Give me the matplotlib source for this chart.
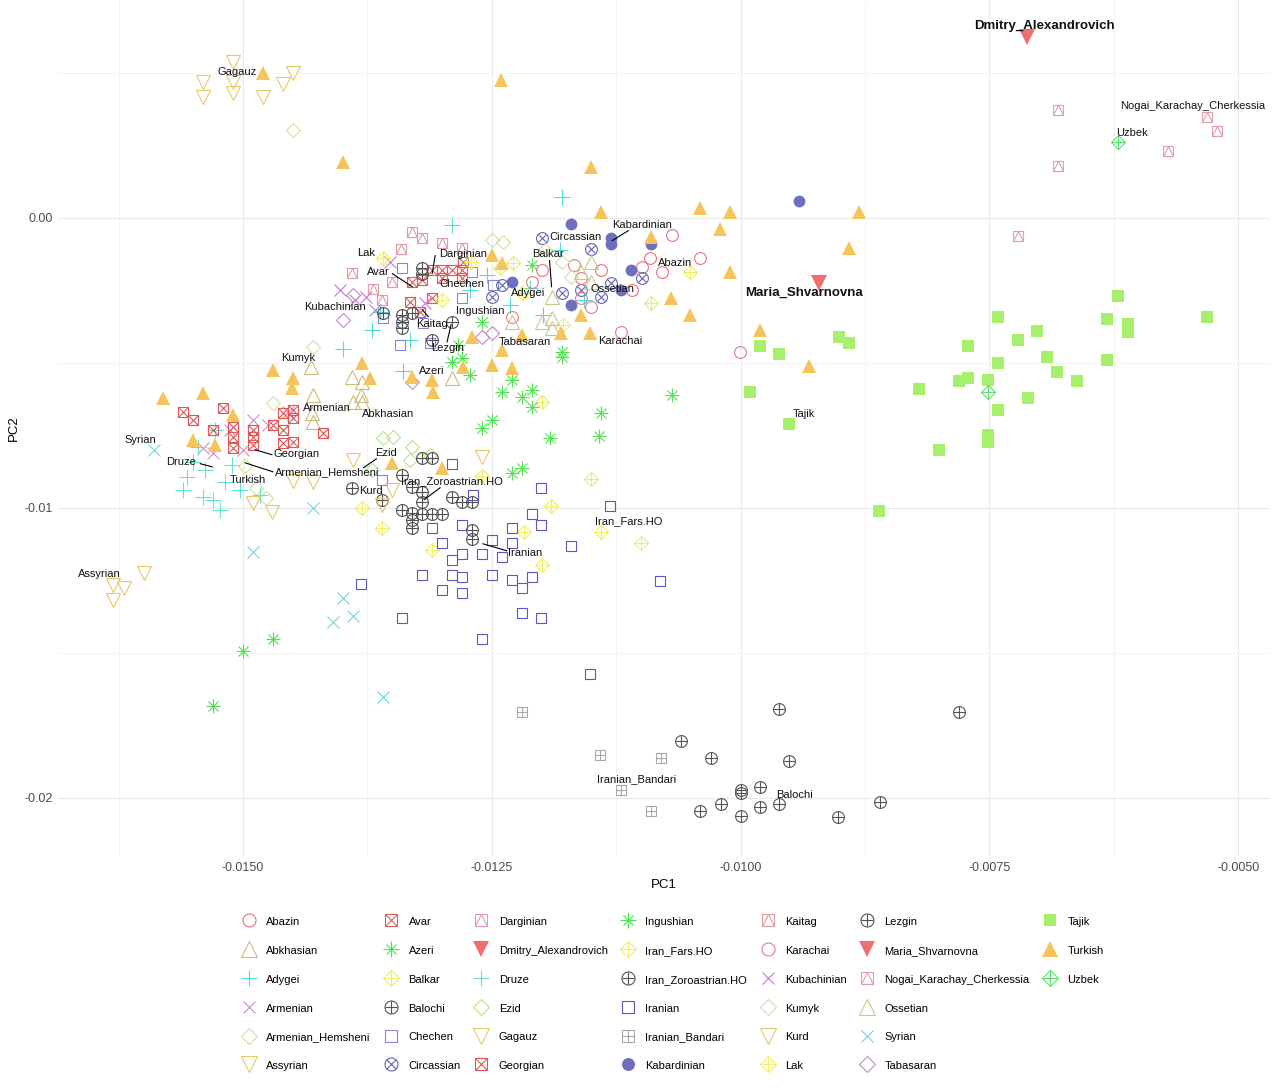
import matplotlib
matplotlib.use("Agg")
import matplotlib.pyplot as plt
from matplotlib.lines import Line2D
from matplotlib.legend_handler import HandlerTuple

plt.rcParams["font.family"] = ["Liberation Sans", "DejaVu Sans"]

# PCA coordinates per population, (PC1, PC2)
abazin = [(-0.01069, -0.00059), (-0.01091, -0.00138), (-0.01041, -0.00138), (-0.01099, -0.00169),
          (-0.01079, -0.00186), (-0.01109, -0.00248), (-0.01140, -0.00179)]
abkhasian = [(-0.01432, -0.00514), (-0.01430, -0.00610), (-0.01431, -0.00672), (-0.01430, -0.00703),
             (-0.01391, -0.00548), (-0.01380, -0.00566), (-0.01381, -0.00610), (-0.01380, -0.00634),
             (-0.01390, -0.00634), (-0.01290, -0.00552)]
adygei = [(-0.01290, -0.00024), (-0.01180, 0.00072), (-0.01255, -0.00197), (-0.01400, -0.00452),
          (-0.01339, -0.00528), (-0.01370, -0.00386), (-0.01199, -0.00334), (-0.01332, -0.00421),
          (-0.01362, -0.00324), (-0.01182, -0.00110), (-0.01157, -0.00283), (-0.01212, -0.00241),
          (-0.01272, -0.00248), (-0.01232, -0.00300)]
armenian = [(-0.01540, -0.00793), (-0.01530, -0.00810), (-0.01500, -0.00800), (-0.01513, -0.00731),
            (-0.01490, -0.00697), (-0.01455, -0.00669), (-0.01475, -0.00714)]
armenian_hemsheni = [(-0.01498, -0.00855), (-0.01487, -0.00931), (-0.01477, -0.00966), (-0.01460, -0.00707)]
assyrian = [(-0.01600, -0.01224), (-0.01631, -0.01266), (-0.01620, -0.01276), (-0.01631, -0.01317)]
avar = [(-0.01310, -0.00179), (-0.01300, -0.00179), (-0.01290, -0.00179), (-0.01280, -0.00179),
        (-0.01300, -0.00207), (-0.01280, -0.00207), (-0.01279, -0.00152), (-0.01320, -0.00214),
        (-0.01310, -0.00276), (-0.01332, -0.00290), (-0.01322, -0.00324), (-0.01330, -0.00221)]
azeri = [(-0.01470, -0.01452), (-0.01500, -0.01493), (-0.01530, -0.01683), (-0.01290, -0.00497),
         (-0.01280, -0.00483), (-0.01284, -0.00438), (-0.01272, -0.00541)]
balkar = [(-0.01051, -0.00186), (-0.01090, -0.00293), (-0.01229, -0.00155), (-0.01200, -0.00634),
          (-0.01220, -0.00259)]
balochi = [(-0.00961, -0.01693), (-0.00781, -0.01703), (-0.01060, -0.01803), (-0.01030, -0.01862),
           (-0.00951, -0.01872), (-0.01000, -0.01972), (-0.01000, -0.01983), (-0.00981, -0.01962),
           (-0.01020, -0.02021), (-0.01041, -0.02045), (-0.01000, -0.02062), (-0.00981, -0.02031),
           (-0.00961, -0.02021), (-0.00902, -0.02066), (-0.00860, -0.02014)]
chechen = [(-0.01340, -0.00172), (-0.01270, -0.00186), (-0.01280, -0.00276), (-0.01359, -0.00345),
           (-0.01312, -0.00431), (-0.01342, -0.00438), (-0.01360, -0.00903), (-0.01319, -0.00362),
           (-0.01249, -0.00231)]
circassian = [(-0.01200, -0.00069), (-0.01150, -0.00107), (-0.01099, -0.00207), (-0.01180, -0.00259),
              (-0.01160, -0.00248), (-0.01140, -0.00272), (-0.01130, -0.00224), (-0.01240, -0.00231),
              (-0.01250, -0.00272)]
darginian = [(-0.01330, -0.00048), (-0.01320, -0.00069), (-0.01300, -0.00086), (-0.01341, -0.00107),
             (-0.01280, -0.00103)]
dmitry = [(-0.00712, 0.00621)]
druze = [(-0.01560, -0.00938), (-0.01556, -0.00893), (-0.01540, -0.00962), (-0.01530, -0.00972),
         (-0.01523, -0.01007), (-0.01550, -0.00841), (-0.01538, -0.00869), (-0.01518, -0.00910),
         (-0.01511, -0.00852), (-0.01503, -0.00938), (-0.01483, -0.00955), (-0.01545, -0.00790),
         (-0.01528, -0.00731)]
ezid = [(-0.01359, -0.00759), (-0.01349, -0.00755), (-0.01330, -0.00790), (-0.01332, -0.00834),
        (-0.01370, -0.00869), (-0.01312, -0.00817)]
gagauz = [(-0.01510, 0.00538), (-0.01540, 0.00466), (-0.01540, 0.00417), (-0.01510, 0.00469),
          (-0.01510, 0.00428), (-0.01480, 0.00417), (-0.01460, 0.00459), (-0.01450, 0.00500)]
georgian = [(-0.01560, -0.00669), (-0.01550, -0.00697), (-0.01520, -0.00655), (-0.01530, -0.00731),
            (-0.01510, -0.00721), (-0.01510, -0.00755), (-0.01510, -0.00793), (-0.01490, -0.00731),
            (-0.01490, -0.00755), (-0.01490, -0.00783), (-0.01470, -0.00714), (-0.01460, -0.00672),
            (-0.01450, -0.00662), (-0.01450, -0.00690), (-0.01460, -0.00731), (-0.01450, -0.00772),
            (-0.01460, -0.00776), (-0.01420, -0.00741)]
ingushian = [(-0.01069, -0.00610), (-0.01140, -0.00672), (-0.01142, -0.00752), (-0.01192, -0.00759),
             (-0.01240, -0.00600), (-0.01220, -0.00617), (-0.01210, -0.00593), (-0.01210, -0.00652),
             (-0.01230, -0.00559), (-0.01250, -0.00697), (-0.01260, -0.00724), (-0.01180, -0.00462),
             (-0.01180, -0.00479), (-0.01230, -0.00879), (-0.01220, -0.00862), (-0.01210, -0.00162),
             (-0.01260, -0.00359)]
iran_fars = [(-0.01150, -0.00900), (-0.01140, -0.01083), (-0.01100, -0.01121), (-0.01191, -0.00993),
             (-0.01218, -0.01083), (-0.01200, -0.01197), (-0.01310, -0.01145), (-0.01360, -0.01069),
             (-0.01380, -0.01000), (-0.01260, -0.00890)]
iran_zoroastrian = [(-0.01320, -0.00828), (-0.01310, -0.00828), (-0.01340, -0.00886), (-0.01330, -0.00928),
                    (-0.01320, -0.00945), (-0.01320, -0.00979), (-0.01290, -0.00962), (-0.01280, -0.00979),
                    (-0.01270, -0.00979), (-0.01340, -0.01007), (-0.01330, -0.01017), (-0.01320, -0.01021),
                    (-0.01310, -0.01021), (-0.01300, -0.01021), (-0.01330, -0.01041), (-0.01330, -0.01069),
                    (-0.01270, -0.01076), (-0.01270, -0.01107), (-0.01391, -0.00931), (-0.01360, -0.00972)]
iranian = [(-0.01290, -0.00848), (-0.01201, -0.00931), (-0.01131, -0.00993), (-0.01269, -0.00955),
           (-0.01210, -0.01021), (-0.01201, -0.01059), (-0.01230, -0.01069), (-0.01280, -0.01059),
           (-0.01310, -0.01069), (-0.01250, -0.01110), (-0.01230, -0.01121), (-0.01300, -0.01121),
           (-0.01170, -0.01131), (-0.01280, -0.01159), (-0.01260, -0.01159), (-0.01240, -0.01169),
           (-0.01290, -0.01179), (-0.01320, -0.01231), (-0.01290, -0.01231), (-0.01280, -0.01238),
           (-0.01250, -0.01231), (-0.01230, -0.01248), (-0.01210, -0.01238), (-0.01220, -0.01276),
           (-0.01300, -0.01283), (-0.01280, -0.01293), (-0.01081, -0.01252), (-0.01381, -0.01262),
           (-0.01340, -0.01379), (-0.01220, -0.01362), (-0.01201, -0.01379), (-0.01260, -0.01452),
           (-0.01151, -0.01572)]
iranian_bandari = [(-0.01220, -0.01703), (-0.01141, -0.01852), (-0.01080, -0.01862), (-0.01120, -0.01972),
                   (-0.01090, -0.02045)]
kabardinian = [(-0.00941, 0.00059), (-0.01170, -0.00021), (-0.01130, -0.00069), (-0.01130, -0.00090),
               (-0.01090, -0.00090), (-0.01110, -0.00179), (-0.01120, -0.00248), (-0.01170, -0.00300),
               (-0.01230, -0.00221)]
kaitag = [(-0.01391, -0.00190), (-0.01369, -0.00245), (-0.01350, -0.00221), (-0.01360, -0.00283)]
karachai = [(-0.01120, -0.00393), (-0.01001, -0.00462), (-0.01200, -0.00179), (-0.01210, -0.00221),
            (-0.01160, -0.00207), (-0.01160, -0.00276), (-0.01150, -0.00307), (-0.01230, -0.00341),
            (-0.01167, -0.00162)]
kubachinian = [(-0.01403, -0.00248), (-0.01388, -0.00283), (-0.01376, -0.00272), (-0.01367, -0.00317),
               (-0.01317, -0.00293), (-0.01352, -0.00152)]
kumyk = [(-0.01430, -0.00445), (-0.01450, 0.00303), (-0.01470, -0.00638), (-0.01250, -0.00076),
         (-0.01239, -0.00083), (-0.01180, -0.00152), (-0.01170, -0.00203), (-0.01197, -0.00110)]
kurd = [(-0.01390, -0.00834), (-0.01350, -0.00938), (-0.01360, -0.00990), (-0.01260, -0.00824),
        (-0.01450, -0.00907), (-0.01430, -0.00910), (-0.01471, -0.01014), (-0.01490, -0.00983)]
lak = [(-0.01359, -0.00138), (-0.01242, -0.00172), (-0.01300, -0.00283), (-0.01179, -0.00369),
       (-0.01271, -0.00152)]
lezgin = [(-0.01320, -0.00172), (-0.01320, -0.00193), (-0.01359, -0.00328), (-0.01340, -0.00334),
          (-0.01340, -0.00359), (-0.01340, -0.00379), (-0.01330, -0.00328), (-0.01310, -0.00421),
          (-0.01290, -0.00359)]
maria = [(-0.00921, -0.00224)]
nogai = [(-0.00681, 0.00372), (-0.00681, 0.00179), (-0.00531, 0.00348), (-0.00521, 0.00300),
         (-0.00571, 0.00231), (-0.00721, -0.00062)]
ossetian = [(-0.01150, -0.00152), (-0.01160, -0.00186), (-0.01150, -0.00221), (-0.01190, -0.00272),
            (-0.01200, -0.00359), (-0.01190, -0.00345), (-0.01190, -0.00379), (-0.01230, -0.00359)]
syrian = [(-0.01590, -0.00800), (-0.01430, -0.01000), (-0.01490, -0.01152), (-0.01400, -0.01310),
          (-0.01410, -0.01393), (-0.01390, -0.01372), (-0.01359, -0.01652)]
tabasaran = [(-0.01400, -0.00352), (-0.01390, -0.00266), (-0.01250, -0.00397), (-0.01260, -0.00410),
             (-0.01330, -0.00566)]
tajik = [(-0.00621, -0.00269), (-0.00741, -0.00341), (-0.00632, -0.00348), (-0.00611, -0.00366),
         (-0.00611, -0.00393), (-0.00531, -0.00341), (-0.00702, -0.00390), (-0.00721, -0.00421),
         (-0.00771, -0.00441), (-0.00692, -0.00479), (-0.00741, -0.00500), (-0.00632, -0.00490),
         (-0.00781, -0.00562), (-0.00771, -0.00552), (-0.00751, -0.00559), (-0.00682, -0.00531),
         (-0.00662, -0.00562), (-0.00821, -0.00590), (-0.00711, -0.00621), (-0.00741, -0.00662),
         (-0.00751, -0.00748), (-0.00751, -0.00772), (-0.00801, -0.00800), (-0.00861, -0.01010),
         (-0.00981, -0.00441), (-0.00961, -0.00469), (-0.00901, -0.00410), (-0.00891, -0.00431),
         (-0.00991, -0.00600), (-0.00951, -0.00710)]
turkish = [(-0.01480, 0.00500), (-0.01241, 0.00476), (-0.01400, 0.00190), (-0.01150, 0.00176),
           (-0.01140, 0.00021), (-0.01041, 0.00034), (-0.01011, 0.00021), (-0.00881, 0.00021),
           (-0.01021, -0.00038), (-0.00891, -0.00103), (-0.01090, -0.00066), (-0.01011, -0.00186),
           (-0.01070, -0.00276), (-0.01051, -0.00334), (-0.01160, -0.00334), (-0.01151, -0.00397),
           (-0.01181, -0.00397), (-0.01250, -0.00128), (-0.01240, -0.00155), (-0.01220, -0.00403),
           (-0.01240, -0.00455), (-0.01250, -0.00507), (-0.01230, -0.00517), (-0.00981, -0.00386),
           (-0.00931, -0.00510), (-0.01270, -0.00410), (-0.01279, -0.00514), (-0.01310, -0.00559),
           (-0.01330, -0.00548), (-0.01380, -0.00500), (-0.01372, -0.00552), (-0.01450, -0.00552),
           (-0.01451, -0.00586), (-0.01470, -0.00524), (-0.01580, -0.00621), (-0.01540, -0.00603),
           (-0.01510, -0.00679), (-0.01550, -0.00766), (-0.01528, -0.00783), (-0.01350, -0.00845),
           (-0.01300, -0.00862), (-0.01309, -0.00600)]
uzbek = [(-0.00621, 0.00259), (-0.00751, -0.00600)]

# marker shapes (R pch look-alikes built from overlaid matplotlib markers)
SHAPES = {
    "circle": [("o", 8.5, False)],
    "triangle": [("^", 10, False)],
    "plus": [("+", 11, None)],
    "cross": [("x", 8, None)],
    "diamond": [("D", 7.2, False)],
    "down": [("v", 10, False)],
    "square": [("s", 7.5, False)],
    "sqcross": [("s", 7.5, False), ("x", 7.5, None)],
    "sqplus": [("s", 7.5, False), ("+", 7.5, None)],
    "sqtri": [("s", 7.5, False), ("^", 7.5, False)],
    "asterisk": [("+", 10, None), ("x", 7.1, None)],
    "diaplus": [("D", 7.2, False), ("+", 10.2, None)],
    "circplus": [("o", 8.5, False), ("+", 8.5, None)],
    "circcross": [("o", 8.5, False), ("x", 6.0, None)],
    "filldown": [("v", 11, True)],
    "fillcircle": [("o", 8.5, True)],
    "fillsquare": [("s", 8, True)],
    "filltri": [("^", 10, True)],
}

groups = [
    ("Abazin", abazin, "circle", "#E8707C"),
    ("Abkhasian", abkhasian, "triangle", "#C9BC7A"),
    ("Adygei", adygei, "plus", "#4FDDD5"),
    ("Armenian", armenian, "cross", "#D58CC4"),
    ("Armenian_Hemsheni", armenian_hemsheni, "diamond", "#D5E58A"),
    ("Assyrian", assyrian, "down", "#E8C664"),
    ("Avar", avar, "sqcross", "#E05A5A"),
    ("Azeri", azeri, "asterisk", "#4FE050"),
    ("Balkar", balkar, "diaplus", "#EEEE5E"),
    ("Balochi", balochi, "circplus", "#555555"),
    ("Chechen", chechen, "square", "#8585DE"),
    ("Circassian", circassian, "circcross", "#6464B4"),
    ("Darginian", darginian, "sqtri", "#E09CA6"),
    ("Dmitry_Alexandrovich", dmitry, "filldown", "#F06E6E"),
    ("Druze", druze, "plus", "#5FE5CF"),
    ("Ezid", ezid, "diamond", "#B6E68C"),
    ("Gagauz", gagauz, "down", "#E8C968"),
    ("Georgian", georgian, "sqcross", "#E05555"),
    ("Ingushian", ingushian, "asterisk", "#55E055"),
    ("Iran_Fars.HO", iran_fars, "diaplus", "#F0EE66"),
    ("Iran_Zoroastrian.HO", iran_zoroastrian, "circplus", "#505050"),
    ("Iranian", iranian, "square", "#5858C0"),
    ("Iranian_Bandari", iranian_bandari, "sqplus", "#A8A8A8"),
    ("Kabardinian", kabardinian, "fillcircle", "#6F6FC0"),
    ("Kaitag", kaitag, "sqtri", "#E09CA6"),
    ("Karachai", karachai, "circle", "#E37A84"),
    ("Kubachinian", kubachinian, "cross", "#C678D6"),
    ("Kumyk", kumyk, "diamond", "#D6E09C"),
    ("Kurd", kurd, "down", "#E6C56C"),
    ("Lak", lak, "diaplus", "#F0F06A"),
    ("Lezgin", lezgin, "circplus", "#505050"),
    ("Maria_Shvarnovna", maria, "filldown", "#F06E6E"),
    ("Nogai_Karachay_Cherkessia", nogai, "sqtri", "#E0A0AA"),
    ("Ossetian", ossetian, "triangle", "#C8C88E"),
    ("Syrian", syrian, "cross", "#6ED8E0"),
    ("Tabasaran", tabasaran, "diamond", "#C586D2"),
    ("Tajik", tajik, "fillsquare", "#A6F06C"),
    ("Turkish", turkish, "filltri", "#F5C45A"),
    ("Uzbek", uzbek, "diaplus", "#5FE06E"),
]

# group labels: text, label position, optional leader segment end
labels = [
    ("Gagauz", (-0.01506, 0.00503), None),
    ("Nogai_Karachay_Cherkessia", (-0.00546, 0.00383), None),
    ("Uzbek", (-0.00607, 0.00293), None),
    ("Lak", (-0.01376, -0.00121), None),
    ("Darginian", (-0.01279, -0.00124), ((-0.01307, -0.00131), (-0.01310, -0.00193))),
    ("Avar", (-0.01364, -0.00186), ((-0.01350, -0.00193), (-0.01330, -0.00238))),
    ("Chechen", (-0.01280, -0.00228), None),
    ("Kubachinian", (-0.01408, -0.00307), None),
    ("Ingushian", (-0.01262, -0.00321), None),
    ("Kaitag", (-0.01310, -0.00366), ((-0.01314, -0.00341), (-0.01320, -0.00317))),
    ("Lezgin", (-0.01294, -0.00448), ((-0.01295, -0.00428), (-0.01291, -0.00369))),
    ("Circassian", (-0.01166, -0.00066), None),
    ("Kabardinian", (-0.01099, -0.00024), ((-0.01113, -0.00045), (-0.01129, -0.00079))),
    ("Balkar", (-0.01194, -0.00124), ((-0.01192, -0.00148), (-0.01190, -0.00238))),
    ("Abazin", (-0.01066, -0.00155), None),
    ("Adygei", (-0.01214, -0.00259), None),
    ("Ossetian", (-0.01129, -0.00245), None),
    ("Tabasaran", (-0.01217, -0.00428), None),
    ("Karachai", (-0.01121, -0.00424), None),
    ("Kumyk", (-0.01445, -0.00483), None),
    ("Azeri", (-0.01310, -0.00528), None),
    ("Armenian", (-0.01416, -0.00655), None),
    ("Abkhasian", (-0.01354, -0.00676), None),
    ("Syrian", (-0.01603, -0.00766), None),
    ("Georgian", (-0.01446, -0.00814), ((-0.01471, -0.00817), (-0.01488, -0.00800))),
    ("Druze", (-0.01562, -0.00841), ((-0.01543, -0.00848), (-0.01531, -0.00859))),
    ("Armenian_Hemsheni", (-0.01415, -0.00876), ((-0.01470, -0.00876), (-0.01498, -0.00845))),
    ("Ezid", (-0.01356, -0.00810), ((-0.01366, -0.00831), (-0.01379, -0.00862))),
    ("Turkish", (-0.01495, -0.00903), None),
    ("Kurd", (-0.01372, -0.00941), None),
    ("Iran_Zoroastrian.HO", (-0.01290, -0.00907), ((-0.01302, -0.00931), (-0.01318, -0.00972))),
    ("Iran_Fars.HO", (-0.01112, -0.01045), None),
    ("Iranian", (-0.01217, -0.01155), ((-0.01235, -0.01148), (-0.01259, -0.01124))),
    ("Tajik", (-0.00936, -0.00676), None),
    ("Assyrian", (-0.01644, -0.01228), None),
    ("Iranian_Bandari", (-0.01105, -0.01934), None),
    ("Balochi", (-0.00946, -0.01990), None),
]
bold_labels = [
    ("Dmitry_Alexandrovich", (-0.00695, 0.00659)),
    ("Maria_Shvarnovna", (-0.00936, -0.00259)),
]


def draw_group(ax, pts, shape, color):
    xs = [p[0] for p in pts]
    ys = [p[1] for p in pts]
    for m, ms, filled in SHAPES[shape]:
        face = color if filled else "none"
        ax.plot(xs, ys, ls="none", marker=m, ms=ms, mfc=face, mec=color,
                mew=0 if filled else 0.8, zorder=3)


def legend_handle(shape, color):
    parts = []
    for m, ms, filled in SHAPES[shape]:
        face = color if filled else "none"
        parts.append(Line2D([], [], ls="none", marker=m, ms=ms * 1.1, mfc=face, mec=color,
                            mew=0 if filled else 0.8))
    return tuple(parts)


fig = plt.figure(figsize=(12.8, 10.9), dpi=100)
ax = fig.add_axes([58 / 1280, 1 - 856 / 1090, 1212 / 1280, 856 / 1090])

for name, pts, shape, color in groups:
    draw_group(ax, pts, shape, color)

for text, (tx, ty), seg in labels:
    if seg is not None:
        ax.plot([seg[0][0], seg[1][0]], [seg[0][1], seg[1][1]], color="black", lw=0.8, zorder=4)
    ax.text(tx, ty, text, fontsize=8, ha="center", va="center", color="#111111", zorder=5)
for text, (tx, ty) in bold_labels:
    ax.text(tx, ty, text, fontsize=9.5, fontweight="bold", ha="center", va="center",
            color="#111111", zorder=5)

ax.set_xlim(-0.01686, -0.00468)
ax.set_ylim(-0.0220, 0.0075)
ax.set_xticks([-0.0150, -0.0125, -0.0100, -0.0075, -0.0050])
ax.set_xticklabels(["-0.0150", "-0.0125", "-0.0100", "-0.0075", "-0.0050"])
ax.set_xticks([-0.01625, -0.01375, -0.01125, -0.00875, -0.00625], minor=True)
ax.set_yticks([0.0, -0.01, -0.02])
ax.set_yticklabels(["0.00", "-0.01", "-0.02"])
ax.set_yticks([0.005, -0.005, -0.015], minor=True)
ax.grid(True, which="major", color="#EBEBEB", lw=0.9)
ax.grid(True, which="minor", color="#F3F3F3", lw=0.6)
ax.set_axisbelow(True)
for s in ax.spines.values():
    s.set_visible(False)
ax.tick_params(which="both", length=0, labelsize=9, labelcolor="#4D4D4D", pad=4)
ax.set_xlabel("PC1", fontsize=9.5, labelpad=4)
ax.set_ylabel("PC2", fontsize=9.5, labelpad=3)

handles = [legend_handle(shape, color) for _, _, shape, color in groups]
names = [g[0] for g in groups]
blank = Line2D([], [], ls="none", marker="none")
handles += [blank] * 3
names += [""] * 3
fig.legend(handles, names, loc="center", bbox_to_anchor=(672 / 1280, 0.0885), ncol=7,
           frameon=False, fontsize=8, handlelength=1.6, handleheight=1.3, handletextpad=0.75,
           columnspacing=1.05, labelspacing=1.5,
           handler_map={tuple: HandlerTuple(ndivide=1, pad=0)})

fig.savefig("out.png", dpi=100)
